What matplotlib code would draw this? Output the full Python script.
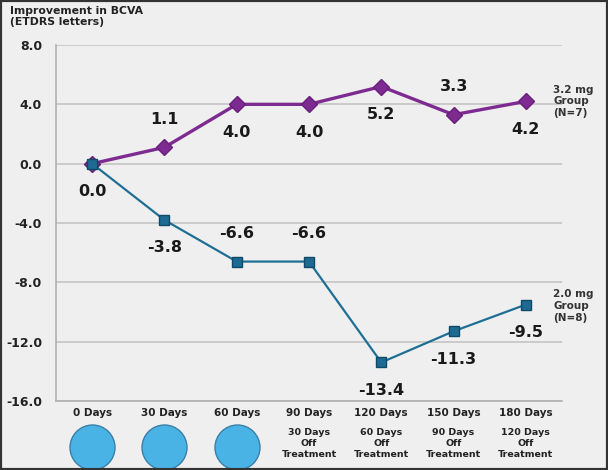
import matplotlib
matplotlib.use("Agg")
import matplotlib.pyplot as plt
import matplotlib.transforms as mtransforms
from matplotlib.patches import Rectangle

# data
days = ["0 Days", "30 Days", "60 Days", "90 Days", "120 Days", "150 Days", "180 Days"]
off_treatment = ["", "", "", "30 Days\nOff\nTreatment", "60 Days\nOff\nTreatment",
                 "90 Days\nOff\nTreatment", "120 Days\nOff\nTreatment"]
dose_32 = [0.0, 1.1, 4.0, 4.0, 5.2, 3.3, 4.2]
dose_20 = [0.0, -3.8, -6.6, -6.6, -13.4, -11.3, -9.5]
# label placement: +1 above, -1 below
pos_32 = [-1, 1, -1, -1, -1, 1, -1]
pos_20 = [-1, -1, 1, 1, -1, -1, -1]
on_treatment = [True, True, True, False, False, False, False]
yticks = [8.0, 4.0, 0.0, -4.0, -8.0, -12.0, -16.0]

bg = "#efefef"
purple = "#7d2b90"
blue = "#1f6f95"

fig = plt.figure(figsize=(6.08, 4.70), dpi=100, facecolor=bg)
ax = fig.add_axes([56 / 608, 1 - 401 / 470, 506 / 608, 356 / 470])
ax.set_facecolor(bg)

x = list(range(len(days)))
ax.set_xlim(-0.5, 6.5)
ax.set_ylim(-16, 8)

for yv in yticks:
    ax.axhline(yv, color="#c4c4c4", lw=1.2, zorder=1)

ax.plot(x, dose_32, "-D", color=purple, lw=2.4, ms=8, mec="#6a1f7c", zorder=4)
ax.plot(x, dose_20, "-s", color=blue, lw=1.6, ms=7, mfc="#1d6b92", mec="#0f4a68", zorder=5)

for xi, v, p in zip(x, dose_32, pos_32):
    if xi == 0:
        continue
    ax.annotate(f"{v:.1f}", (xi, v), xytext=(0, 20 * p), textcoords="offset points",
                ha="center", va="center", fontsize=11.5, fontweight="bold", color="#1a1a1a")
for xi, v, p in zip(x, dose_20, pos_20):
    ax.annotate(f"{v:.1f}", (xi, v), xytext=(0, 20 * p), textcoords="offset points",
                ha="center", va="center", fontsize=11.5, fontweight="bold", color="#1a1a1a")

ax.set_yticks(yticks)
ax.set_yticklabels([f"{t:.1f}" for t in yticks], fontsize=9, fontweight="bold", color="#222222")
ax.tick_params(axis="y", length=0, pad=10)
ax.set_xticks([])
for s in ["top", "right"]:
    ax.spines[s].set_visible(False)
ax.spines["left"].set_color("#b0b0b0")
ax.spines["bottom"].set_color("#b0b0b0")
ax.spines["left"].set_linewidth(1.2)
ax.spines["bottom"].set_linewidth(1.2)

# bottom labels
trans = mtransforms.blended_transform_factory(ax.transData, ax.transAxes)
for xi, d, sub, on in zip(x, days, off_treatment, on_treatment):
    ax.text(xi, -0.035, d, transform=trans, ha="center", va="center",
            fontsize=7.5, fontweight="bold", color="#222222")
    if sub:
        ax.text(xi, -0.12, sub, transform=trans, ha="center", va="center",
                fontsize=6.8, fontweight="bold", color="#222222", linespacing=1.3)
    if on:
        ax.scatter([xi], [-0.128], transform=trans, s=1050, color="#4ab3e6",
                   edgecolor="#3a7fa8", lw=1, clip_on=False, zorder=3)

# group labels
ax.text(6.38, 4.2, "3.2 mg\nGroup\n(N=7)", ha="left", va="center", fontsize=7.5,
        fontweight="bold", color="#333333", clip_on=False)
ax.text(6.38, -9.6, "2.0 mg\nGroup\n(N=8)", ha="left", va="center", fontsize=7.5,
        fontweight="bold", color="#333333", clip_on=False)

fig.text(10 / 608, 1 - 6 / 470, "Improvement in BCVA\n(ETDRS letters)", ha="left", va="top",
         fontsize=7.8, fontweight="bold", color="#222222", linespacing=1.1)

fig.patches.append(Rectangle((0, 0), 1, 1, transform=fig.transFigure, fill=False,
                             edgecolor="#333333", lw=3))

fig.savefig("out.png", dpi=100, facecolor=bg)
